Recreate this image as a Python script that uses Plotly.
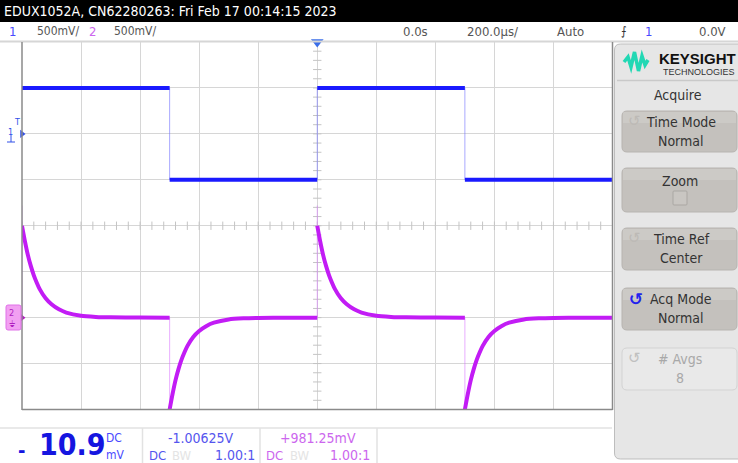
import numpy as np
import plotly.graph_objects as go

# ---------------- data ----------------
TIME_PER_DIV_US = 200.0
VOLTS_PER_DIV = 0.5
CH1_GROUND_DIV = 2.0      # channel 1 ground marker, divisions above centre
CH2_GROUND_DIV = -2.0     # channel 2 ground marker

# channel 1: square wave, edge times (us) and level held after each edge (V)
ch1_edges_us = [-1000, -500, 0, 500, 1000]
ch1_levels_v = [0.50, -0.50, 0.50, -0.50]

# channel 2: RC differentiator response, sampled after each edge
ch2_decay_t_us = [0, 10, 20, 30, 40, 50, 60, 80, 100, 125, 150, 200, 250, 300, 400, 500]
ch2_decay_v = [1.00, 0.83, 0.68, 0.56, 0.46, 0.38, 0.31, 0.21, 0.145, 0.09, 0.055,
               0.02, 0.008, 0.003, 0.001, 0.0]
ch2_edge_sign = [1, -1, 1, -1]
ch2_edge_peak_v = 1.22

W, H = 738, 463
FONT = "Liberation Sans Narrow, DejaVu Sans Condensed, Arial Narrow, sans-serif"
BLUE = "#1a1aff"
MAGENTA = "#c21cf5"


def X(p):
    return p / W


def Y(p):
    return 1 - p / H


def ch1_div(v):
    return v / VOLTS_PER_DIV + CH1_GROUND_DIV


def ch2_div(v):
    return v / VOLTS_PER_DIV + CH2_GROUND_DIV


fig = go.Figure()

# ---- minor ticks on the centre axes ----
tx = np.arange(-1000, 1001, 40)
fig.add_trace(go.Scatter(x=tx, y=np.zeros_like(tx), mode="markers",
                         marker=dict(symbol="line-ns-open", size=6, color="#c4c4c4",
                                     line=dict(color="#c4c4c4", width=1)),
                         hoverinfo="skip", showlegend=False))
ty = np.arange(-4, 4.01, 0.2)
fig.add_trace(go.Scatter(x=np.zeros_like(ty), y=ty, mode="markers",
                         marker=dict(symbol="line-ew-open", size=6, color="#c4c4c4",
                                     line=dict(color="#c4c4c4", width=1)),
                         hoverinfo="skip", showlegend=False))

# ---- channel 2 ----
c2x, c2y, e2x, e2y = [], [], [], []
for i, sign in enumerate(ch2_edge_sign):
    t0 = ch1_edges_us[i]
    for dt, v in zip(ch2_decay_t_us, ch2_decay_v):
        c2x.append(t0 + dt)
        c2y.append(ch2_div(sign * v))
    c2x.append(None)
    c2y.append(None)
    e2x += [t0, t0, None]
    e2y += [ch2_div(0), ch2_div(sign * ch2_edge_peak_v), None]

fig.add_trace(go.Scatter(x=e2x, y=e2y, mode="lines",
                         line=dict(color="rgba(215,110,255,0.55)", width=1),
                         hoverinfo="skip", showlegend=False))
fig.add_trace(go.Scatter(x=c2x, y=c2y, mode="lines",
                         line=dict(color=MAGENTA, width=4, shape="spline", smoothing=0.6),
                         showlegend=False))

# ---- channel 1 ----
c1x, c1y, e1x, e1y = [], [], [], []
for i, lvl in enumerate(ch1_levels_v):
    c1x += [ch1_edges_us[i], ch1_edges_us[i + 1], None]
    c1y += [ch1_div(lvl), ch1_div(lvl), None]
    if i > 0:
        e1x += [ch1_edges_us[i], ch1_edges_us[i], None]
        e1y += [ch1_div(ch1_levels_v[i - 1]), ch1_div(lvl), None]

fig.add_trace(go.Scatter(x=e1x, y=e1y, mode="lines",
                         line=dict(color="rgba(110,110,255,0.6)", width=1),
                         hoverinfo="skip", showlegend=False))
fig.add_trace(go.Scatter(x=c1x, y=c1y, mode="lines",
                         line=dict(color=BLUE, width=4),
                         showlegend=False))

# trigger position marker
fig.add_trace(go.Scatter(x=[0], y=[4], mode="markers", cliponaxis=False,
                         marker=dict(symbol="triangle-down", size=11, color="#3a6ee8"),
                         hoverinfo="skip", showlegend=False))

shapes = []
ann = []


def text(x, y, s, size=13, color="#444", xanchor="center", yanchor="middle",
         family=FONT, bold=False):
    if bold:
        s = "<b>" + s + "</b>"
    ann.append(dict(x=X(x), y=Y(y), xref="paper", yref="paper", text=s,
                    showarrow=False, xanchor=xanchor, yanchor=yanchor,
                    font=dict(size=size, color=color, family=family)))


def rect(x0, y0, x1, y1, fill, line=None, lw=1, layer="above"):
    shapes.append(dict(type="rect", xref="paper", yref="paper",
                       x0=X(x0), x1=X(x1), y0=Y(y1), y1=Y(y0),
                       fillcolor=fill, layer=layer,
                       line=dict(color=line or fill, width=lw if line else 0)))


def hline(x0, x1, y, color, lw=1):
    shapes.append(dict(type="line", xref="paper", yref="paper",
                       x0=X(x0), x1=X(x1), y0=Y(y), y1=Y(y),
                       line=dict(color=color, width=lw)))


def vline(x, y0, y1, color, lw=1):
    shapes.append(dict(type="line", xref="paper", yref="paper",
                       x0=X(x), x1=X(x), y0=Y(y0), y1=Y(y1),
                       line=dict(color=color, width=lw)))


def rrect(x0, y0, x1, y1, r, fill, line, lw=1):
    p = (f"M {X(x0 + r)},{Y(y0)} L {X(x1 - r)},{Y(y0)} Q {X(x1)},{Y(y0)} {X(x1)},{Y(y0 + r)} "
         f"L {X(x1)},{Y(y1 - r)} Q {X(x1)},{Y(y1)} {X(x1 - r)},{Y(y1)} "
         f"L {X(x0 + r)},{Y(y1)} Q {X(x0)},{Y(y1)} {X(x0)},{Y(y1 - r)} "
         f"L {X(x0)},{Y(y0 + r)} Q {X(x0)},{Y(y0)} {X(x0 + r)},{Y(y0)} Z")
    shapes.append(dict(type="path", xref="paper", yref="paper", path=p,
                       fillcolor=fill, line=dict(color=line, width=lw), layer="above"))


# ---- header ----
rect(0, 0, 738, 22, "#000000")
text(2, 11, "EDUX1052A, CN62280263: Fri Feb 17 00:14:15 2023", size=14,
     color="#ffffff", xanchor="left")
hline(0, 738, 41.5, "#d6d6d6", 2)
text(12, 31, "1", color="#4a4aff")
text(35, 31, "500mV/", color="#555", size=12, xanchor="left")
text(92, 31, "2", color="#cc66ee")
text(112, 31, "500mV/", color="#555", size=12, xanchor="left")
text(416, 31, "0.0s", color="#555")
text(492, 31, "200.0µs/", color="#555")
text(570, 31, "Auto", color="#555")
text(624, 31, "⨍", color="#333", size=12)
text(648, 31, "1", color="#4a4aff")
text(712, 31, "0.0V", color="#555")

# plot frame
vline(22, 42, 410, "#8a8a8a", 1.5)
vline(612.5, 42, 410, "#8a8a8a", 1.5)
hline(22, 612.5, 409.5, "#8a8a8a", 1.5)

# channel markers on the left edge
text(17, 122, "T", color="#3050e8", size=9)
text(10, 132, "1", color="#3050e8", size=9)
fig.add_trace(go.Scatter(x=[-1000], y=[CH1_GROUND_DIV], mode="markers", cliponaxis=False,
                         marker=dict(symbol="triangle-right", size=7, color="#3050e8"),
                         hoverinfo="skip", showlegend=False))
vline(11, 135, 142, "#3050e8", 1)
hline(7, 15, 142, "#3050e8", 1)
rrect(6, 305, 21, 330, 2, "#f2a0f2", "#e070e8")
text(11, 313, "2", color="#b020c0", size=9)
text(12, 324, "⏚", color="#b020c0", size=9)
fig.add_trace(go.Scatter(x=[-1000], y=[CH2_GROUND_DIV], mode="markers", cliponaxis=False,
                         marker=dict(symbol="triangle-right", size=7, color="#b020c0"),
                         hoverinfo="skip", showlegend=False))

# ---- bottom status row ----
hline(0, 612, 428, "#e2e2e2", 1.5)
vline(142.5, 428, 463, "#e2e2e2", 1.5)
vline(260, 428, 463, "#e2e2e2", 1.5)
vline(377, 428, 463, "#e2e2e2", 1.5)
seg_font = "DejaVu Sans Condensed, DejaVu Sans Mono, sans-serif"
text(21, 450, "-", color="#1515e0", size=20, family=seg_font, bold=True)
text(72, 444, "10.9", color="#1515e0", size=30, family=seg_font, bold=True)
text(104, 438, "DC", color="#4a4aff", size=12, xanchor="left")
text(104, 455, "mV", color="#4a4aff", size=12, xanchor="left")

text(201, 438, "-1.00625V", color="#5555ee", size=14)
text(147, 455, "DC", color="#5555ee", size=13, xanchor="left")
text(170, 455, "BW", color="#e4e4e4", size=13, xanchor="left")
text(257, 455, "1.00:1", color="#5555ee", size=14, xanchor="right")
text(318, 438, "+981.25mV", color="#cc66ee", size=14)
text(264, 455, "DC", color="#cc66ee", size=13, xanchor="left")
text(288, 455, "BW", color="#e4e4e4", size=13, xanchor="left")
text(372, 455, "1.00:1", color="#cc66ee", size=14, xanchor="right")

# ---- right-hand soft-key panel ----
rrect(614.5, 44, 745, 459, 6, "#e6e6e6", "#bdbdbd")
logo = [(624, 62), (628, 57), (631, 67), (634.5, 52), (638.5, 71), (642, 56), (645, 65), (648, 60)]
lp = "M " + " L ".join(f"{X(a)},{Y(b)}" for a, b in logo)
shapes.append(dict(type="path", xref="paper", yref="paper", path=lp,
                   line=dict(color="#22d8b4", width=3.5), layer="above"))
text(697, 59, "KEYSIGHT", color="#111", size=15, family="Liberation Sans, Arial, sans-serif",
     bold=True)
text(699, 72, "TECHNOLOGIES", color="#333", size=9,
     family="Liberation Sans, Arial, sans-serif")
hline(617, 738, 80.5, "#c9c9c9", 1.5)
text(678, 95, "Acquire", color="#333", size=14)

buttons = [
    (111, 152, "Time Mode", "Normal", "faint"),
    (168, 212, "Zoom", None, "none"),
    (228, 270, "Time Ref", "Center", "faint"),
    (288, 330, "Acq Mode", "Normal", "blue"),
]
for y0, y1, l1, l2, icon in buttons:
    rrect(622, y0, 737, y1, 5, "#c4c1bd", "#b7b4b0")
    rect(623, y0 + 1, 736, y0 + 12, "rgba(255,255,255,0.15)")
    if l2:
        text(681, y0 + 11, l1, color="#333", size=14)
        text(681, y0 + 30, l2, color="#333", size=14)
    else:
        text(680, y0 + 13, l1, color="#333", size=14)
    if icon == "faint":
        text(634, y0 + 10, "↺", color="#bdbab6", size=15, family="DejaVu Sans")
    elif icon == "blue":
        text(636, y0 + 11, "↺", color="#2222ee", size=17, family="DejaVu Sans", bold=True)
rrect(673, 191, 687, 205, 1, "#c9c6c2", "#aaa7a3")

rrect(622, 348, 737, 390, 5, "#e9e9e9", "#d3d3d3")
text(634, 358, "↺", color="#c0c0c0", size=15, family="DejaVu Sans")
text(680, 359, "# Avgs", color="#a8a8a8", size=14)
text(680, 378, "8", color="#a8a8a8", size=14)

fig.update_layout(
    width=W, height=H,
    margin=dict(l=0, r=0, t=0, b=0),
    paper_bgcolor="#ffffff", plot_bgcolor="#ffffff",
    shapes=shapes, annotations=ann,
    xaxis=dict(domain=[X(22), X(612.5)], range=[-1000, 1000], dtick=TIME_PER_DIV_US,
               showgrid=True, gridcolor="#d6d6d6", gridwidth=1, zeroline=False,
               showticklabels=False, ticks="", fixedrange=True),
    yaxis=dict(domain=[Y(409.5), Y(42)], range=[-4, 4], dtick=1,
               showgrid=True, gridcolor="#d6d6d6", gridwidth=1, zeroline=False,
               showticklabels=False, ticks="", fixedrange=True),
    showlegend=False,
)

fig.write_html("out.html")
